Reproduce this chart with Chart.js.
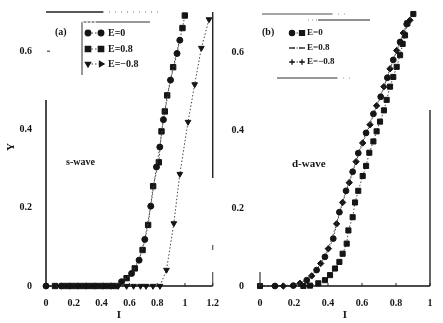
<!DOCTYPE html>
<html><head><meta charset="utf-8">
<script src="https://cdn.jsdelivr.net/npm/chart.js@4/dist/chart.umd.min.js"></script>
<style>
html,body{margin:0;padding:0;background:#fff;}
#wrap{position:relative;width:443px;height:323px;overflow:hidden;background:#fff;}
.pane{position:absolute;top:0;height:323px;}
</style></head><body>
<div id="wrap">
<div class="pane" style="left:0;width:222px"><canvas id="c1"></canvas></div>
<div class="pane" style="left:222px;width:221px"><canvas id="c2"></canvas></div>
</div>
<script>
// ---------- data: panel (a) s-wave ----------
const seriesNames = ["E=0", "E=0.8", "E=\u22120.8"];
const sE0X  = [0, 0.11, 0.17, 0.23, 0.29, 0.35, 0.41, 0.47, 0.544, 0.616, 0.67, 0.711, 0.754, 0.795, 0.819, 0.845, 0.896, 0.943, 0.963];
const sE0Y  = [0, 0, 0, 0, 0, 0, 0, 0, 0.011, 0.032, 0.066, 0.119, 0.204, 0.304, 0.355, 0.425, 0.526, 0.594, 0.628];
const sE08X = [0.065, 0.14, 0.2, 0.26, 0.32, 0.38, 0.44, 0.5, 0.58, 0.639, 0.695, 0.735, 0.771, 0.812, 0.831, 0.855, 0.872, 0.915, 0.982, 0.999];
const sE08Y = [0, 0, 0, 0, 0, 0, 0, 0, 0.02, 0.045, 0.092, 0.156, 0.255, 0.316, 0.395, 0.446, 0.487, 0.559, 0.659, 0.691];
const sEm08X = [0.52, 0.58, 0.63, 0.68, 0.72, 0.77, 0.82, 0.867, 0.92, 0.963, 1.022, 1.07, 1.118, 1.173];
const sEm08Y = [0, 0, 0, 0, 0, 0, 0, 0.041, 0.16, 0.286, 0.419, 0.515, 0.608, 0.681];
// ---------- data: panel (b) d-wave ----------
const dE0X  = [0.088, 0.196, 0.275, 0.333, 0.382, 0.431, 0.467, 0.506, 0.545, 0.578, 0.624, 0.667, 0.71, 0.749, 0.784, 0.824, 0.863];
const dE0Y  = [0, 0.001, 0.015, 0.041, 0.075, 0.122, 0.19, 0.245, 0.294, 0.342, 0.394, 0.443, 0.487, 0.536, 0.582, 0.628, 0.674];
const dE08X = [0, 0.255, 0.294, 0.343, 0.382, 0.412, 0.441, 0.467, 0.486, 0.51, 0.52, 0.545, 0.559, 0.578, 0.604, 0.624, 0.643, 0.667, 0.686, 0.706, 0.729, 0.745, 0.765, 0.784, 0.804, 0.824, 0.839, 0.853, 0.867, 0.902];
const dE08Y = [0, 0, 0.001, 0.007, 0.015, 0.028, 0.045, 0.062, 0.083, 0.109, 0.143, 0.177, 0.215, 0.245, 0.283, 0.309, 0.343, 0.372, 0.398, 0.423, 0.452, 0.479, 0.513, 0.538, 0.564, 0.594, 0.623, 0.645, 0.676, 0.7];
const dEm08X = [0.137, 0.235, 0.304, 0.357, 0.402, 0.451, 0.486, 0.525, 0.565, 0.604, 0.647, 0.686, 0.729, 0.765, 0.804, 0.843, 0.882];
const dEm08Y = [0, 0.007, 0.026, 0.058, 0.096, 0.16, 0.215, 0.266, 0.32, 0.368, 0.415, 0.464, 0.513, 0.559, 0.606, 0.651, 0.684];
// ---------- ticks ----------
const aXTicks = [0, 0.2, 0.4, 0.6, 0.8, 1, 1.2];
const aXLabels = ["0", "0.2", "0.4", "0.6", "0.8", "1", "1.2"];
const bXTicks = [0, 0.2, 0.4, 0.6, 0.8, 1];
const bXLabels = ["0", "0.2", "0.4", "0.6", "0.8", "1"];
const yTicks = [0, 0.2, 0.4, 0.6];
const yLabels = ["0", "0.2", "0.4", "0.6"];
const panelLabels = ["(a)", "(b)"];
const waveLabels = ["s-wave", "d-wave"];
const xTitle = "I", yTitle = "Y";

const FONT = '"Liberation Serif", "DejaVu Serif", serif';
const INK = '#151515';
const pts = (xs, ys) => xs.map((x, i) => ({x: x, y: ys[i]}));

function ds(label, xs, ys, style, radius, rot, bw) {
  return {label, data: pts(xs, ys), showLine: true, borderColor: '#444', borderWidth: 1,
    borderDash: [1.5, 2], pointStyle: style, pointRadius: radius, pointRotation: rot || 0,
    pointBackgroundColor: INK, pointBorderColor: INK, pointBorderWidth: bw || 1, clip: false, tension: 0};
}

function mkScales(xMax, xTicks, xLabels, yW, yPad) {
  return {
    x: {type: 'linear', min: 0, max: xMax,
      afterBuildTicks: s => { s.ticks = xTicks.map(v => ({value: v})); },
      afterFit: s => { s.height = 37; },
      grid: {display: false}, border: {display: false},
      ticks: {padding: 3, color: INK, font: {family: FONT, size: 10, weight: 'bold'},
        maxRotation: 0, autoSkip: false,
        callback: (v) => { const i = xTicks.indexOf(v); return i >= 0 ? xLabels[i] : ''; }}},
    y: {type: 'linear', min: 0, max: 0.7,
      afterBuildTicks: s => { s.ticks = yTicks.map(v => ({value: v})); },
      afterFit: s => { s.width = yW; },
      grid: {display: false}, border: {display: false},
      ticks: {padding: yPad, color: INK, font: {family: FONT, size: 10, weight: 'bold'},
        callback: (v) => { const i = yTicks.indexOf(v); return i >= 0 ? yLabels[i] : ''; }}}
  };
}

function line(ctx, x1, y1, x2, y2, col, w, dash) {
  ctx.save(); ctx.strokeStyle = col; ctx.lineWidth = w; ctx.setLineDash(dash || []);
  ctx.beginPath(); ctx.moveTo(x1, y1); ctx.lineTo(x2, y2); ctx.stroke(); ctx.restore();
}
function text(ctx, s, x, y, size, align, rot) {
  ctx.save(); ctx.fillStyle = INK; ctx.font = 'bold ' + size + 'px ' + FONT;
  ctx.textAlign = align || 'left'; ctx.textBaseline = 'middle';
  ctx.translate(x, y); if (rot) ctx.rotate(rot); ctx.fillText(s, 0, 0); ctx.restore();
}
function marker(ctx, style, r, rot, x, y) {
  ctx.save(); ctx.fillStyle = INK; ctx.strokeStyle = INK; ctx.lineWidth = 1.3;
  Chart.helpers.drawPoint(ctx, {pointStyle: style, radius: r, rotation: rot || 0, borderWidth: 1.3}, x, y);
  ctx.restore();
}
function xTicksIn(ctx, xs, ticks, a) {
  ticks.forEach(v => { const p = xs.getPixelForValue(v); line(ctx, p, a.bottom - 3, p, a.bottom, '#222', 1); });
}

// ---------- decoration for panel (a) ----------
const decorA = {id: 'decorA', afterDraw(chart) {
  const ctx = chart.ctx, a = chart.chartArea, xs = chart.scales.x, ys = chart.scales.y;
  line(ctx, a.left, a.bottom, a.right, a.bottom, '#111', 1.3);
  line(ctx, a.left, 100, a.left, a.bottom, '#111', 1.5);
  line(ctx, a.left, a.top, 103, a.top, '#222', 1.3);
  line(ctx, 103, a.top, 160, a.top, '#777', 1, [1, 5]);
  line(ctx, a.right, a.top, a.right, 178, '#111', 1.3);
  line(ctx, a.right, 245, a.right, 250, '#333', 1);
  line(ctx, a.right, 272, a.right, a.bottom, '#333', 1);
  xTicksIn(ctx, xs, aXTicks, a);
  [0.6].forEach(v => { const p = ys.getPixelForValue(v); line(ctx, a.left + 1, p, a.left + 4, p, '#222', 1); });
  // legend box
  line(ctx, 82, 22, 82, 75, '#555', 1.2);
  line(ctx, 82, 22, 150, 22, '#333', 1.2);
  line(ctx, 82, 22, 96, 22, '#fff', 1.2, [2, 2]);
  const rows = [33, 49, 64];
  const st = [['circle', 2.8, 0], ['rect', 3.8, 0], ['triangle', 3, 180]];
  rows.forEach((yy, i) => {
    line(ctx, 88, yy, 101, yy, '#444', 1, [1.5, 2]);
    marker(ctx, st[i][0], st[i][1], st[i][2], 88, yy);
    marker(ctx, st[i][0], st[i][1], i === 2 ? 90 : st[i][2], 101, yy);
    text(ctx, seriesNames[i], 108, yy, 10, 'left');
  });
  text(ctx, panelLabels[0], 55, 32, 10, 'left');
  text(ctx, waveLabels[0], 66, 162, 10, 'left');
  text(ctx, yTitle, 11, 147, 11, 'center', -Math.PI / 2);
  text(ctx, xTitle, 119, 315, 11, 'center');
}};

// ---------- decoration for panel (b) ----------
const decorB = {id: 'decorB', afterDraw(chart) {
  const ctx = chart.ctx, a = chart.chartArea, xs = chart.scales.x;
  const o = -222;
  line(ctx, a.left, a.bottom, a.right, a.bottom, '#111', 1.3);
  line(ctx, a.left, 272, a.left, a.bottom, '#333', 1.2);
  line(ctx, 262 + o, a.top, 332 + o, a.top, '#888', 1.3);
  line(ctx, 332 + o, a.top, 350 + o, a.top, '#999', 1, [1, 5]);
  line(ctx, a.right, 110, a.right, a.bottom, '#111', 1.3);
  xTicksIn(ctx, xs, bXTicks, a);
  // legend lines
  line(ctx, 318 + o, 20, 370 + o, 20, '#222', 1.2);
  line(ctx, 308 + o, 20, 318 + o, 20, '#888', 1, [1, 3]);
  line(ctx, 277 + o, 78, 337 + o, 78, '#333', 1.2);
  line(ctx, 337 + o, 78, 350 + o, 78, '#999', 1, [1, 5]);
  const rows = [33, 48, 62];
  const st = [['circle', 2.6, 0, 'rect', 3.5], ['line', 3, 0, 'line', 3], ['cross', 2.8, 0, 'cross', 2.8]];
  rows.forEach((yy, i) => {
    line(ctx, 293 + o, yy, 302 + o, yy, '#444', 1, [1.5, 2]);
    marker(ctx, st[i][0], st[i][1], st[i][2], 292 + o, yy);
    marker(ctx, st[i][3], st[i][4], 0, 302 + o, yy);
    text(ctx, seriesNames[i], 307 + o, yy, 9, 'left');
  });
  text(ctx, panelLabels[1], 262 + o, 32, 10, 'left');
  text(ctx, waveLabels[1], 292 + o, 164, 11, 'left');
  text(ctx, xTitle, 345 + o, 315, 11, 'center');
}};

const common = {responsive: true, maintainAspectRatio: false, animation: false,
  plugins: {legend: {display: false}, tooltip: {enabled: false}}};

new Chart(document.getElementById('c1'), {
  type: 'scatter',
  data: {datasets: [
    ds(seriesNames[0], sE0X, sE0Y, 'circle', 3),
    ds(seriesNames[1], sE08X, sE08Y, 'rect', 3.8),
    ds(seriesNames[2], sEm08X, sEm08Y, 'triangle', 3.3, 180)
  ]},
  options: Object.assign({}, common, {
    layout: {padding: {left: 0, right: 9, top: 10, bottom: 0}},
    scales: mkScales(1.2, aXTicks, aXLabels, 46, 6)}),
  plugins: [decorA]
});

new Chart(document.getElementById('c2'), {
  type: 'scatter',
  data: {datasets: [
    ds(seriesNames[0], dE0X, dE0Y, 'circle', 2.9),
    ds(seriesNames[1], dE08X, dE08Y, 'rect', 3.6),
    ds(seriesNames[2], dEm08X, dEm08Y, 'rectRot', 3.2)
  ]},
  options: Object.assign({}, common, {
    layout: {padding: {left: 0, right: 13, top: 10, bottom: 0}},
    scales: mkScales(1, bXTicks, bXLabels, 38, 8)}),
  plugins: [decorB]
});
</script>
</body></html>
